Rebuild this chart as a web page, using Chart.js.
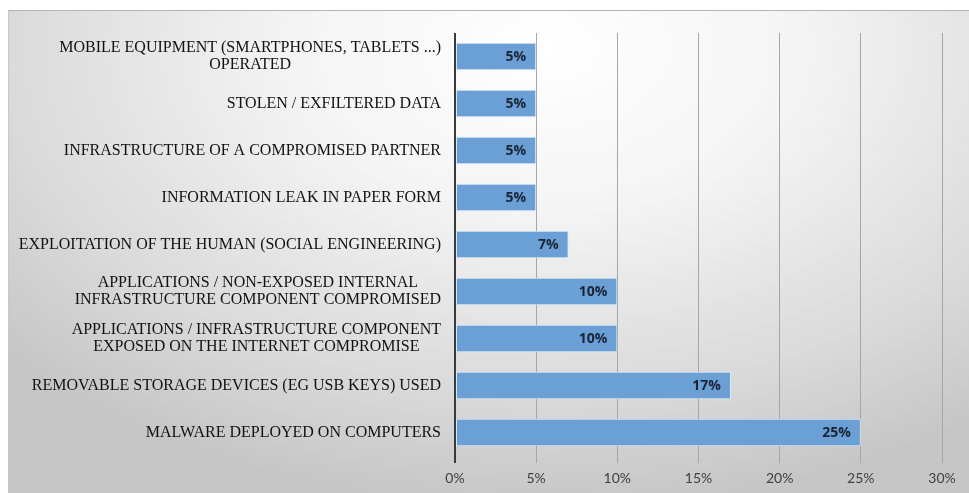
<!doctype html>
<html lang="en">
  <head>
    <meta charset="utf-8">
    <title>Attack vectors</title>
    <style>
      * {
        margin: 0;
        padding: 0;
      }
      body {
        width: 969px;
        height: 493px;
        background: #fff;
        overflow: hidden;
      }
      .chartBox {
        position: absolute;
        left: 8px;
        top: 10px;
        width: 961px;
        height: 483px;
        border-top: 1px solid #b4b4b4;
        border-left: 1px solid #c8c8c8;
        box-sizing: border-box;
        background: radial-gradient(ellipse 75% 95% at 56% 8%, #ffffff 0%, #f4f4f4 35%, #dadada 75%, #c6c6c6 100%);
      }
    </style>
  </head>
  <body>
    <div class="chartBox">
      <canvas id="myChart" width="960" height="482"></canvas>
    </div>
    <script src="https://cdn.jsdelivr.net/npm/chart.js/dist/chart.umd.min.js"></script>
    <script>
    // data, top to bottom
    const categories = [
      ['MOBILE EQUIPMENT (SMARTPHONES, TABLETS ...)', 'OPERATED'],
      'STOLEN / EXFILTERED DATA',
      'INFRASTRUCTURE OF A COMPROMISED PARTNER',
      'INFORMATION LEAK IN PAPER FORM',
      'EXPLOITATION OF THE HUMAN (SOCIAL ENGINEERING)',
      ['APPLICATIONS / NON-EXPOSED INTERNAL', 'INFRASTRUCTURE COMPONENT COMPROMISED'],
      ['APPLICATIONS / INFRASTRUCTURE COMPONENT', 'EXPOSED ON THE INTERNET COMPROMISE'],
      'REMOVABLE STORAGE DEVICES (EG USB KEYS) USED',
      'MALWARE DEPLOYED ON COMPUTERS'
    ];
    const shares = [5, 5, 5, 5, 7, 10, 10, 17, 25];
    const xTicks = [0, 5, 10, 15, 20, 25, 30];

    // category labels: block right-aligned to the axis, lines centred inside the block
    const categoryLabels = {
      id: 'categoryLabels',
      afterDraw(chart) {
        const { ctx, scales: { x, y } } = chart;
        const right = x.getPixelForValue(0) - 14;
        const lineH = 17;
        ctx.save();
        ctx.font = "16px 'Liberation Serif', 'Times New Roman', serif";
        ctx.fillStyle = '#111111';
        ctx.textAlign = 'center';
        ctx.textBaseline = 'middle';
        categories.forEach((label, i) => {
          const lines = Array.isArray(label) ? label : [label];
          const w = Math.max(...lines.map(l => ctx.measureText(l).width));
          const cx = right - w / 2;
          const cy = y.getPixelForValue(i);
          lines.forEach((l, k) => {
            ctx.fillText(l, cx, cy + (k - (lines.length - 1) / 2) * lineH);
          });
        });
        ctx.restore();
      }
    };

    // value labels inside bar ends
    const barValues = {
      id: 'barValues',
      afterDatasetsDraw(chart) {
        const { ctx } = chart;
        const meta = chart.getDatasetMeta(0);
        ctx.save();
        ctx.font = 'bold 14px "Open Sans", sans-serif';
        ctx.fillStyle = '#1a2433';
        ctx.textAlign = 'right';
        ctx.textBaseline = 'middle';
        meta.data.forEach((bar, i) => {
          ctx.fillText(shares[i] + '%', bar.x - 10, bar.y + 1);
        });
        ctx.restore();
      }
    };

    const config = {
      type: 'bar',
      data: {
        labels: categories,
        datasets: [{
          data: shares,
          backgroundColor: '#6aa0d6',
          borderColor: '#d6ecf4',
          borderWidth: 1,
          borderSkipped: false,
          barPercentage: 0.58,
          categoryPercentage: 1
        }]
      },
      options: {
        indexAxis: 'y',
        responsive: false,
        animation: false,
        layout: {
          padding: { top: 22, right: 27, bottom: 0, left: 0 }
        },
        scales: {
          x: {
            min: 0,
            max: 30,
            afterBuildTicks: (scale) => {
              scale.ticks = xTicks.map(v => ({ value: v }));
            },
            afterFit: (scale) => { scale.height = 37; },
            border: { display: false },
            grid: {
              color: (c) => c.index === 0 ? '#3a3a3a' : '#a6a6a6',
              lineWidth: (c) => c.index === 0 ? 2 : 1,
              tickLength: 7
            },
            ticks: {
              callback: (v) => v + '%',
              color: '#404040',
              padding: 7,
              font: { family: 'Lato, sans-serif', size: 14 }
            }
          },
          y: {
            afterFit: (scale) => { scale.width = 446; },
            border: { display: false },
            grid: { display: false },
            ticks: { display: false }
          }
        },
        plugins: {
          legend: { display: false },
          tooltip: { enabled: false }
        }
      },
      plugins: [barValues, categoryLabels]
    };

    const myChart = new Chart(document.getElementById('myChart'), config);
    </script>
  </body>
</html>
